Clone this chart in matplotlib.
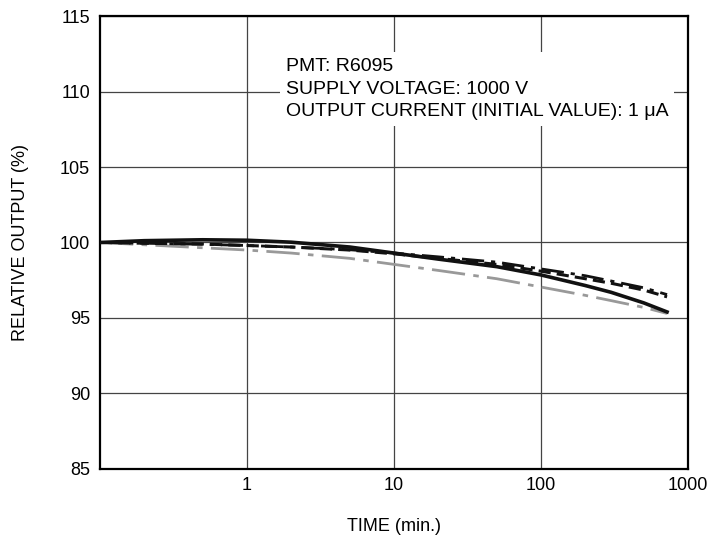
import matplotlib
matplotlib.use('Agg')
import matplotlib.pyplot as plt
import numpy as np

plt.rcParams['font.family'] = ['Liberation Sans', 'DejaVu Sans']

# time in minutes
time_min = [0.1, 0.2, 0.5, 1, 2, 5, 10, 20, 50, 100, 200, 300, 500, 720]

# relative output (%) for the four tubes
solid_black = [100.0, 100.12, 100.18, 100.15, 100.02, 99.7, 99.3, 98.9, 98.4, 97.85, 97.15, 96.7, 96.0, 95.4]
dashed_black = [100.0, 99.95, 99.9, 99.8, 99.7, 99.5, 99.25, 98.95, 98.55, 98.1, 97.6, 97.3, 96.85, 96.4]
dashdot_black = [100.0, 99.95, 99.88, 99.8, 99.7, 99.52, 99.3, 99.05, 98.7, 98.25, 97.8, 97.45, 97.0, 96.55]
dashdot_gray = [100.0, 99.85, 99.65, 99.5, 99.3, 98.95, 98.55, 98.15, 97.6, 97.05, 96.5, 96.15, 95.7, 95.3]

x_ticks = [1, 10, 100, 1000]
x_ticklabels = ['1', '10', '100', '1000']
y_ticks = [85, 90, 95, 100, 105, 110, 115]

info_text = 'PMT: R6095\nSUPPLY VOLTAGE: 1000 V\nOUTPUT CURRENT (INITIAL VALUE): 1 \u03bcA'

fig = plt.figure(figsize=(7.11, 5.39), dpi=100)
ax = fig.add_axes([0.1406, 0.1299, 0.8271, 0.8404])

ax.set_xscale('log')
ax.set_xlim(0.1, 1000)
ax.set_ylim(85, 115)
ax.set_xticks(x_ticks)
ax.set_xticklabels(x_ticklabels)
ax.set_yticks(y_ticks)
ax.minorticks_off()
ax.tick_params(length=0, labelsize=13, colors='black')
ax.tick_params(axis='x', pad=6)
ax.tick_params(axis='y', pad=7)

ax.grid(True, which='major', color='#444444', linewidth=0.9)
ax.set_axisbelow(True)
for sp in ax.spines.values():
    sp.set_linewidth(1.6)
    sp.set_color('black')

ax.plot(time_min, dashdot_gray, color='#999999', linewidth=2.0,
        dashes=(12, 3, 2, 3), zorder=3)
ax.plot(time_min, dashdot_black, color='#111111', linewidth=2.0,
        dashes=(8, 2.5, 1.5, 2.5), zorder=4)
ax.plot(time_min, dashed_black, color='#111111', linewidth=2.2,
        dashes=(4, 2), zorder=4)
ax.plot(time_min, solid_black, color='#111111', linewidth=2.6, zorder=5)

ax.text(0.316, 0.907, info_text, transform=ax.transAxes, fontsize=14,
        va='top', ha='left', linespacing=1.42, zorder=6,
        bbox=dict(boxstyle='square,pad=0.3', facecolor='white', edgecolor='none'))

ax.set_xlabel('TIME (min.)', fontsize=13, labelpad=17)
ax.set_ylabel('RELATIVE OUTPUT (%)', fontsize=13, labelpad=22)

fig.savefig('out.png', dpi=100)
